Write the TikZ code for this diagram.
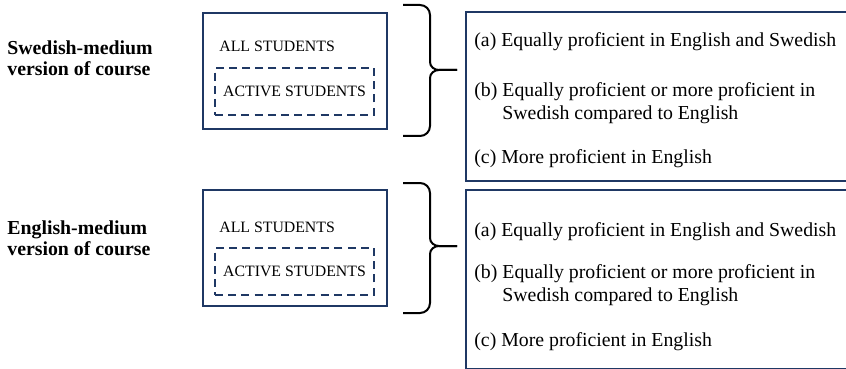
\documentclass[tikz,border=0pt]{standalone}
\usepackage{fontspec}
\setmainfont{Liberation Serif}
\usepackage{xcolor}
\usepackage{tikz}
\usetikzlibrary{arrows.meta,positioning}
\definecolor{navy}{HTML}{1F3864}
\tikzset{
  groupname/.style={anchor=west, inner sep=0pt, align=left, font=\fontsize{9.9}{10.5}\selectfont\bfseries},
  allbox/.style={rectangle, draw=navy, line width=1pt, anchor=north west, minimum width=92pt, minimum height=58pt},
  activebox/.style={rectangle, draw=navy, dashed, dash pattern=on 4pt off 2.6pt, line width=1pt, anchor=north west, minimum width=79.5pt, minimum height=23.5pt, inner sep=0pt, font=\fontsize{7.9}{9}\selectfont},
  alltext/.style={anchor=west, inner sep=0pt, font=\fontsize{7.9}{9}\selectfont},
  profbox/.style={rectangle, draw=navy, line width=0.9pt, anchor=north west, minimum width=192.5pt},
  proftext/.style={anchor=west, inner sep=0pt, align=left, font=\fontsize{9.9}{11.5}\selectfont},
  curly/.style={line width=1pt, black}
}

\begin{document}
\begin{tikzpicture}[x=0.5pt, y=-0.5pt]
  \useasboundingbox (0,0) rectangle (846,369);
  % Swedish-medium block
  \node[groupname] (swname) at (7,58) {Swedish-medium\\version of course};
  \node[allbox] (swall) at (202,12) {};
  \node[alltext] (swalltxt) at (219,46) {ALL STUDENTS};
  \node[activebox] (swact) at (214,67) {ACTIVE STUDENTS};
  \node[profbox, minimum height=84.5pt] (swprof) at (465,11) {};
  \node[proftext] (swa) at (474,42) {(a) Equally proficient in English and Swedish};
  \node[proftext] (swb) at (474,103) {(b) Equally proficient or more proficient in\\\phantom{(b) }Swedish compared to English};
  \node[proftext] (swc) at (474,159) {(c) More proficient in English};
  \coordinate (swtip) at (457,70);
  \draw[curly] (403,5) -- (420,5) to[out=0,in=90] (430,15) -- (430,62)
    to[out=-90,in=180] (439,70) -- (swtip);
  \draw[curly] (swtip) -- (439,70) to[out=180,in=90] (430,78) -- (430,126)
    to[out=-90,in=0] (420,136) -- (403,136);

  % English-medium block
  \node[groupname] (enname) at (7,238) {English-medium\\version of course};
  \node[allbox] (enall) at (202,189) {};
  \node[alltext] (enalltxt) at (219,227) {ALL STUDENTS};
  \node[activebox] (enact) at (214,247) {ACTIVE STUDENTS};
  \node[profbox, minimum height=89.5pt] (enprof) at (465,189) {};
  \node[proftext] (ena) at (474,232) {(a) Equally proficient in English and Swedish};
  \node[proftext] (enb) at (474,285) {(b) Equally proficient or more proficient in\\\phantom{(b) }Swedish compared to English};
  \node[proftext] (enc) at (474,342) {(c) More proficient in English};
  \coordinate (entip) at (457,246);
  \draw[curly] (403,183) -- (420,183) to[out=0,in=90] (430,193) -- (430,238)
    to[out=-90,in=180] (439,246) -- (entip);
  \draw[curly] (entip) -- (439,246) to[out=180,in=90] (430,254) -- (430,303)
    to[out=-90,in=0] (420,313) -- (403,313);
\end{tikzpicture}
\end{document}
